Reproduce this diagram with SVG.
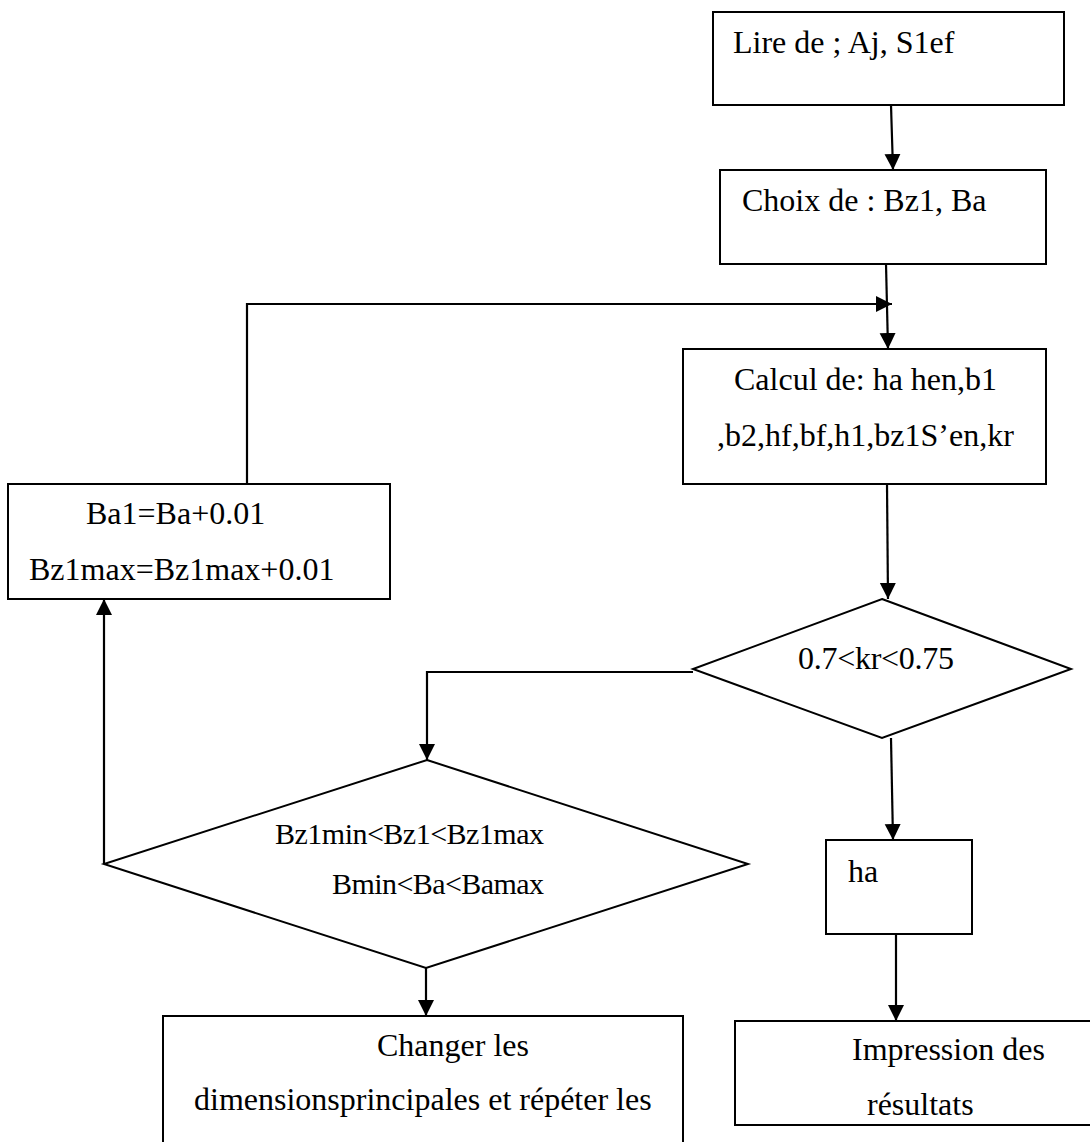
<svg xmlns="http://www.w3.org/2000/svg" width="1090" height="1142" viewBox="0 0 1090 1142">
  <style>
    .shape { fill: #ffffff; stroke: #000000; stroke-width: 2; }
    .wire { fill: none; stroke: #000000; stroke-width: 2.2; }
    .lbl { font-family: "Liberation Serif", "Times New Roman", serif; font-size: 32px; fill: #000000; }
    .cond { font-family: "Liberation Serif", "Times New Roman", serif; font-size: 30px; fill: #000000; }
  </style>
  <defs>
    <marker id="arrow" markerUnits="userSpaceOnUse" markerWidth="18" markerHeight="18" refX="16" refY="8" orient="auto">
      <path d="M0,0 L16,8 L0,16 Z" fill="#000000"/>
    </marker>
  </defs>

  <rect width="1090" height="1142" fill="#ffffff"/>

  <!-- process boxes and decisions -->
  <g id="node-lire">
    <rect class="shape" x="713" y="12" width="351" height="93"/>
    <text class="lbl" x="733" y="53">Lire de ; Aj, S1ef</text>
  </g>

  <g id="node-choix">
    <rect class="shape" x="720" y="170" width="326" height="94"/>
    <text class="lbl" x="742" y="211">Choix de : Bz1, Ba</text>
  </g>

  <g id="node-calcul">
    <rect class="shape" x="683" y="349" width="363" height="135"/>
    <text class="lbl" x="734" y="390">Calcul de: ha hen,b1</text>
    <text class="lbl" x="717" y="446">,b2,hf,bf,h1,bz1S’en,kr</text>
  </g>

  <g id="node-increment">
    <rect class="shape" x="8" y="484" width="382" height="115"/>
    <text class="lbl" x="86" y="524">Ba1=Ba+0.01</text>
    <text class="lbl" x="29" y="580">Bz1max=Bz1max+0.01</text>
  </g>

  <g id="node-test-kr">
    <polygon class="shape" points="882,599 1071,669 882,738 693,669"/>
    <text class="lbl" x="798" y="669" textLength="156">0.7&lt;kr&lt;0.75</text>
  </g>

  <g id="node-test-dims">
    <polygon class="shape" points="427,760 748,864 426,968 104,864"/>
    <text class="cond" x="275" y="844" textLength="269">Bz1min&lt;Bz1&lt;Bz1max</text>
    <text class="cond" x="332" y="894" textLength="212">Bmin&lt;Ba&lt;Bamax</text>
  </g>

  <g id="node-ha">
    <rect class="shape" x="826" y="840" width="146" height="94"/>
    <text class="lbl" x="848" y="882">ha</text>
  </g>

  <g id="node-changer">
    <rect class="shape" x="163" y="1016" width="520" height="140"/>
    <text class="lbl" x="377" y="1056">Changer les</text>
    <text class="lbl" x="194" y="1110">dimensionsprincipales et répéter les</text>
  </g>

  <g id="node-impression">
    <rect class="shape" x="735" y="1021" width="360" height="104"/>
    <text class="lbl" x="852" y="1060">Impression des</text>
    <text class="lbl" x="867" y="1115">résultats</text>
  </g>

  <!-- connectors -->
  <g id="connectors">
    <line class="wire" x1="891" y1="105" x2="893" y2="170" marker-end="url(#arrow)"/>
    <line class="wire" x1="886" y1="264" x2="888" y2="349" marker-end="url(#arrow)"/>
    <polyline class="wire" points="247,484 247,304 892,304" marker-end="url(#arrow)"/>
    <line class="wire" x1="887" y1="484" x2="888" y2="599" marker-end="url(#arrow)"/>
    <line class="wire" x1="891" y1="738" x2="893" y2="840" marker-end="url(#arrow)"/>
    <line class="wire" x1="896" y1="934" x2="896" y2="1021" marker-end="url(#arrow)"/>
    <polyline class="wire" points="693,672 427,672 427,760" marker-end="url(#arrow)"/>
    <line class="wire" x1="426" y1="968" x2="426" y2="1016" marker-end="url(#arrow)"/>
    <line class="wire" x1="104" y1="864" x2="104" y2="599" marker-end="url(#arrow)"/>
  </g>
</svg>
